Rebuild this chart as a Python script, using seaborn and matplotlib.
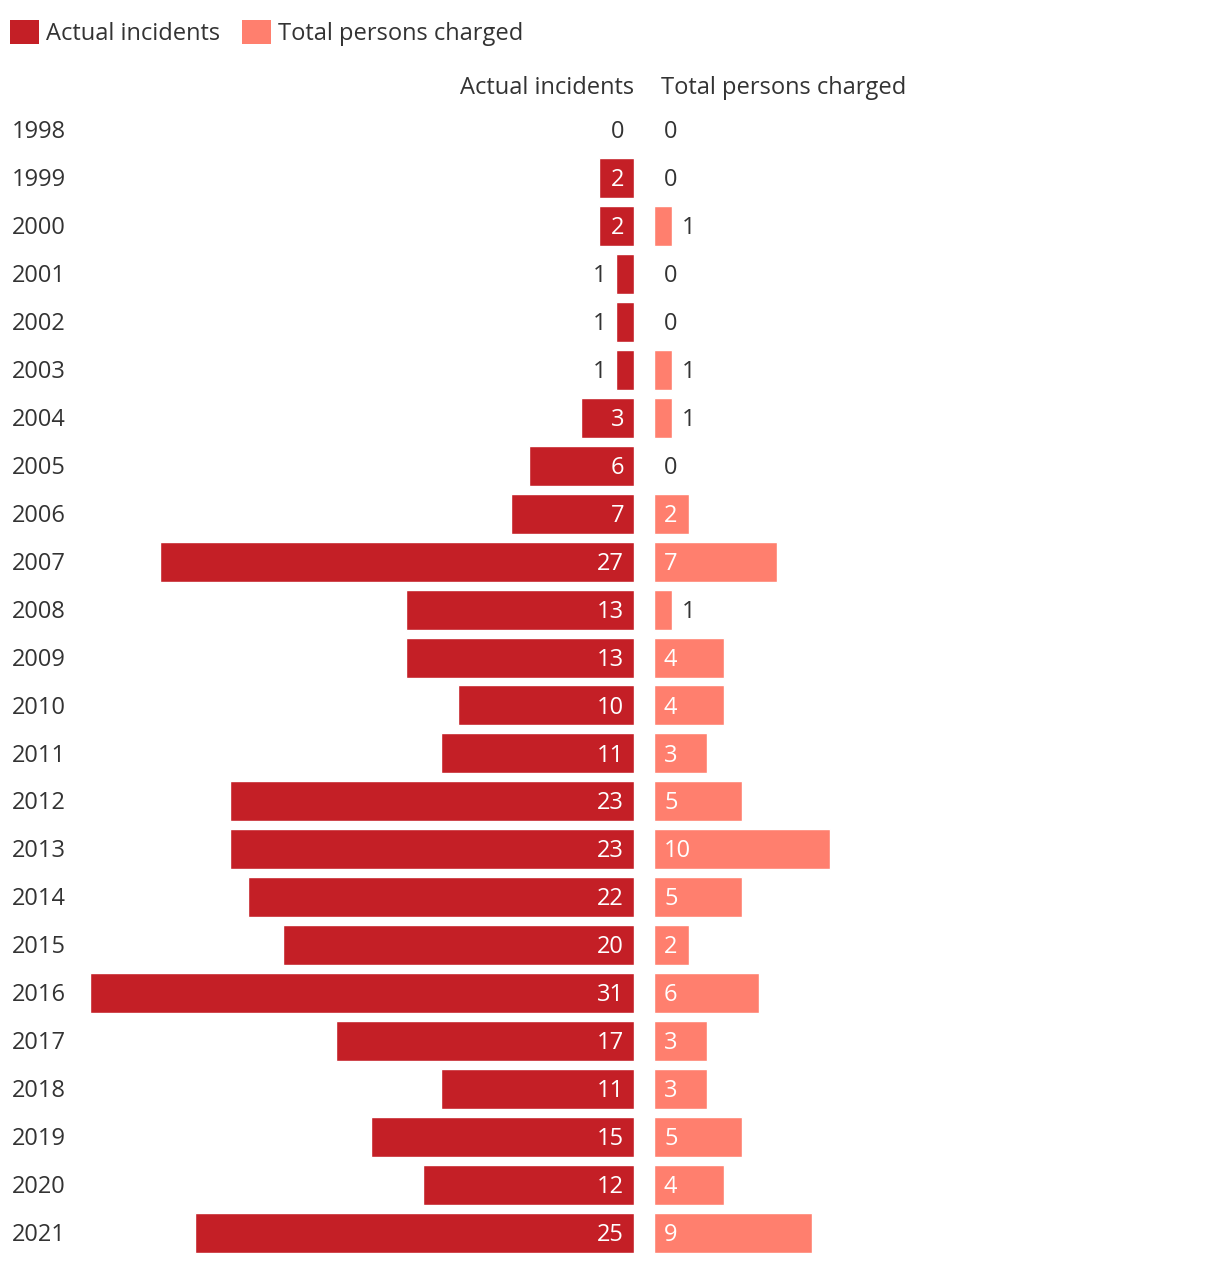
import matplotlib
matplotlib.use("Agg")
import matplotlib.pyplot as plt
from matplotlib.patches import Patch
from matplotlib.transforms import blended_transform_factory, offset_copy
import seaborn as sns
import pandas as pd

years = [str(y) for y in range(1998, 2022)]
actual_incidents = [0, 2, 2, 1, 1, 1, 3, 6, 7, 27, 13, 13, 10, 11, 23, 23, 22, 20, 31, 17, 11, 15, 12, 25]
persons_charged = [0, 0, 1, 0, 0, 1, 1, 0, 2, 7, 1, 4, 4, 3, 5, 10, 5, 2, 6, 3, 3, 5, 4, 9]
series_names = ["Actual incidents", "Total persons charged"]

RED = "#C41F26"
SALMON = "#FF7F6E"
TXT = "#333333"

sns.set_theme(style="white")
plt.rcParams["font.family"] = ["Open Sans", "DejaVu Sans"]
FS = 17

W, H = 1220, 1264
fig = plt.figure(figsize=(W / 100, H / 100), dpi=100)

px_per_unit = 17.55
top_px, bot_px = 106, 1257
left_l, right_l = 72, 634
left_r, right_r = 654, 1210

def ax_rect(x0, x1):
    return [x0 / W, 1 - bot_px / H, (x1 - x0) / W, (bot_px - top_px) / H]

axL = fig.add_axes(ax_rect(left_l, right_l))
axR = fig.add_axes(ax_rect(left_r, right_r))

df = pd.DataFrame({"year": years, "a": actual_incidents, "p": persons_charged})

sns.barplot(data=df, x="a", y="year", order=years, color=RED, saturation=1,
            width=40 / 48, ax=axL, orient="h")
sns.barplot(data=df, x="p", y="year", order=years, color=SALMON, saturation=1,
            width=40 / 48, ax=axR, orient="h")

axL.set_xlim((right_l - left_l) / px_per_unit, 0)
axR.set_xlim(0, (right_r - left_r) / px_per_unit)
for ax in (axL, axR):
    ax.set_ylim(len(years) - 0.5, -0.5)
    ax.set_xlabel("")
    ax.set_ylabel("")
    ax.set_xticks([])
    ax.set_yticks([])
    for s in ax.spines.values():
        s.set_visible(False)

dy = -1.5  # points, shift text slightly down
tL = offset_copy(axL.transData, fig=fig, x=0, y=dy, units="points")
tR = offset_copy(axR.transData, fig=fig, x=0, y=dy, units="points")

off = 10 / px_per_unit
for i, (a, p) in enumerate(zip(actual_incidents, persons_charged)):
    if a >= 2:
        axL.text(off, i, str(a), ha="right", va="center", color="white", fontsize=FS, transform=tL)
    else:
        axL.text(a + off, i, str(a), ha="right", va="center", color=TXT, fontsize=FS, transform=tL)
    if p >= 2:
        axR.text(off, i, str(p), ha="left", va="center", color="white", fontsize=FS, transform=tR)
    else:
        axR.text(p + off, i, str(p), ha="left", va="center", color=TXT, fontsize=FS, transform=tR)

trans = offset_copy(blended_transform_factory(fig.transFigure, axL.transData), fig=fig,
                    x=0, y=dy, units="points")
for i, y in enumerate(years):
    axL.text(12 / W, i, y, transform=trans, ha="left", va="center", color=TXT, fontsize=FS)

fig.text(634 / W, 1 - 87.5 / H, series_names[0], ha="right", va="center", color=TXT, fontsize=FS)
fig.text(661 / W, 1 - 87.5 / H, series_names[1], ha="left", va="center", color=TXT, fontsize=FS)

handles = [Patch(facecolor=RED, edgecolor="none"), Patch(facecolor=SALMON, edgecolor="none")]
fig.legend(handles, series_names, loc="center left", bbox_to_anchor=(1 / W, 1 - 33 / H),
           ncol=2, frameon=False, fontsize=FS, handlelength=1.2, handleheight=1.2,
           handletextpad=0.3, columnspacing=0.95, labelcolor=TXT, borderaxespad=0)

fig.savefig("out.png", dpi=100, facecolor="white")
